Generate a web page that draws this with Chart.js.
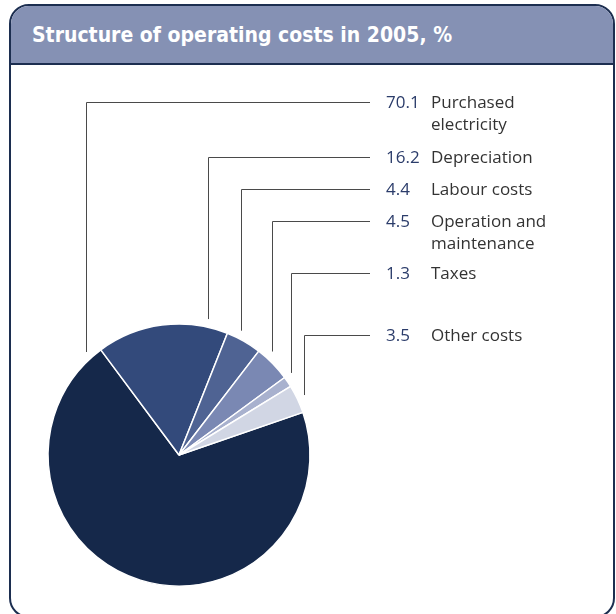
<!DOCTYPE html>
<html>
<head>
<meta charset="utf-8">
<script src="https://cdn.jsdelivr.net/npm/chart.js@4/dist/chart.umd.min.js"></script>
<style>
  html, body { margin: 0; padding: 0; background: #ffffff; overflow: hidden; }
  body { width: 616px; height: 614px; position: relative; }
  .panel {
    position: absolute; left: 9px; top: 4px; width: 602px; height: 610px;
    border: 2px solid #1c2e50; border-radius: 20px; overflow: hidden; background: #ffffff;
  }
  .panel-head {
    height: 57px; background: #8591b4; border-bottom: 2px solid #1c2e50;
  }
  .panel-head h1 {
    margin: 0; position: absolute; left: 21px; top: 17px;
    font-family: "DejaVu Sans Condensed", "DejaVu Sans", sans-serif; font-weight: bold;
    font-size: 21px; color: #ffffff; letter-spacing: 0px; white-space: nowrap;
  }
  #chart { position: absolute; left: 0; top: 0; }
</style>
</head>
<body>
<div class="panel"><div class="panel-head"><h1>Structure of operating costs in 2005, %</h1></div></div>
<canvas id="chart" width="616" height="614"></canvas>
<script>
// Cost categories, their shares (%) and the text shown beside each leader line
const categories = ['Purchased electricity', 'Depreciation', 'Labour costs', 'Operation and maintenance', 'Taxes', 'Other costs'];
const labelLines = [['Purchased', 'electricity'], ['Depreciation'], ['Labour costs'], ['Operation and', 'maintenance'], ['Taxes'], ['Other costs']];
const shares = [70.1, 16.2, 4.4, 4.5, 1.3, 3.5];

// Styling and label layout
const sliceColors = ['#15284a', '#334a7b', '#4f6393', '#7a88b3', '#a8b1ce', '#d1d6e4'];
const labelRowY = [102, 157, 189, 221, 273, 335];   // y of each label row / leader elbow
const anchorAlongArc = [0.978, 0.835, 0.31, 0.27, 0.02, 0.48]; // where on each slice the leader starts
const lineEndX = 370, valueX = 386, textX = 431, lineGap = 22;

const leaderLabels = {
  id: 'leaderLabels',
  afterDatasetsDraw(chart) {
    const ctx = chart.ctx;
    const meta = chart.getDatasetMeta(0);
    ctx.save();
    meta.data.forEach((arc, i) => {
      const p = arc.getProps(['x', 'y', 'startAngle', 'endAngle', 'outerRadius'], true);
      const a = p.startAngle + anchorAlongArc[i] * (p.endAngle - p.startAngle);
      const r = p.outerRadius + 8;
      const px = Math.round(p.x + r * Math.cos(a)) + 0.5;
      const py = p.y + r * Math.sin(a);
      const ry = labelRowY[i] + 0.5;
      ctx.strokeStyle = '#4a4a4a';
      ctx.lineWidth = 1;
      ctx.beginPath();
      ctx.moveTo(px, py);
      ctx.lineTo(px, ry);
      ctx.lineTo(lineEndX, ry);
      ctx.stroke();

      ctx.textBaseline = 'middle';
      ctx.textAlign = 'left';
      ctx.font = '17px "Open Sans", sans-serif';
      ctx.fillStyle = '#2b3c6a';
      ctx.fillText(shares[i].toFixed(1), valueX, labelRowY[i] + 1);
      ctx.fillStyle = '#333333';
      labelLines[i].forEach((t, k) => ctx.fillText(t, textX, labelRowY[i] + 1 + k * lineGap));
    });
    ctx.restore();
  }
};

new Chart(document.getElementById('chart'), {
  type: 'pie',
  data: {
    labels: categories,
    datasets: [{
      data: shares,
      backgroundColor: sliceColors,
      borderColor: '#ffffff',
      borderWidth: 1.5
    }]
  },
  options: {
    responsive: false,
    animation: false,
    rotation: 71,
    radius: 131,
    layout: { padding: { left: 39, right: 297, top: 315, bottom: 19 } },
    plugins: { legend: { display: false }, tooltip: { enabled: false } }
  },
  plugins: [leaderLabels]
});
</script>
</body>
</html>
